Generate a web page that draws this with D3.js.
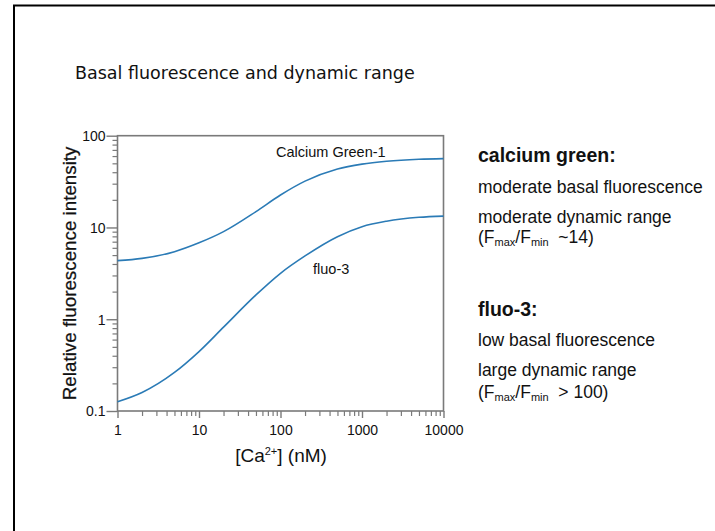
<!DOCTYPE html>
<html>
<head>
<meta charset="utf-8">
<script src="https://cdn.jsdelivr.net/npm/d3@7"></script>
<style>
  body { margin: 0; background: #fff; }
  svg { display: block; }
</style>
</head>
<body>
<script>
// [Ca2+] in nM
let calcium = [1, 2, 5, 10, 20, 50, 100, 200, 500, 1000, 2000, 5000, 10000];
let greenValues = [4.35, 4.6, 5.45, 6.8, 9.0, 14.9, 22.6, 32, 43.4, 49, 52.6, 55.3, 56.2];
let fluoValues = [0.126, 0.159, 0.263, 0.444, 0.82, 1.84, 3.17, 4.9, 7.94, 10.2, 11.7, 12.9, 13.3];
let xMajor = [1, 10, 100, 1000, 10000];
let yMajor = [0.1, 1, 10, 100];
let yLabels = ["0.1", "1", "10", "100"];

let width = 715;
let height = 531;
let lineColor = "#2b7bb6";
let axisColor = "#7a7a7a";
let font = "'Liberation Sans', Arial, Helvetica, sans-serif";

let svg = d3
  .select("body")
  .append("svg")
  .attr("width", width)
  .attr("height", height);

// slide frame (top and left edge)
svg.append("path")
  .attr("d", `M14,${height} L14,5.5 L${width},5.5`)
  .attr("fill", "none")
  .attr("stroke", "#000")
  .attr("stroke-width", 2);

svg.append("text")
  .attr("x", 75)
  .attr("y", 79)
  .attr("font-family", "'DejaVu Sans', Verdana, sans-serif")
  .attr("font-size", 17.5)
  .attr("fill", "#111")
  .text("Basal fluorescence and dynamic range");

let x = d3.scaleLog().domain([1, 10000]).range([117.5, 443.5]);
let y = d3.scaleLog().domain([0.1, 100]).range([411, 135.7]);

// minor ticks: 2..9 in each decade
let minorX = [];
for (let d = 1; d < 10000; d *= 10) {
  for (let k = 2; k <= 9; k++) minorX.push(d * k);
}
let minorY = [];
for (let d = 0.1; d < 99; d *= 10) {
  for (let k = 2; k <= 9; k++) minorY.push(+(d * k).toPrecision(3));
}

let plot = svg.append("g");

// box
plot.append("rect")
  .attr("x", x(1))
  .attr("y", y(100))
  .attr("width", x(10000) - x(1))
  .attr("height", y(0.1) - y(100))
  .attr("fill", "none")
  .attr("stroke", axisColor)
  .attr("stroke-width", 1.6);

let xAxis = d3.axisBottom(x).tickValues(xMajor).tickSize(7).tickSizeOuter(0)
  .tickFormat(d3.format("d"));
plot.append("g")
  .attr("transform", `translate(0,${y(0.1)})`)
  .call(xAxis)
  .call((g) => g.select(".domain").remove())
  .call((g) => g.selectAll("line").attr("stroke", axisColor).attr("stroke-width", 1.4))
  .call((g) => g.selectAll("text")
    .attr("font-family", font).attr("font-size", 14).attr("fill", "#111")
    .attr("dy", 0).attr("y", 24));

plot.append("g")
  .attr("transform", `translate(0,${y(0.1)})`)
  .call(d3.axisBottom(x).tickValues(minorX).tickSize(5).tickFormat(""))
  .call((g) => g.select(".domain").remove())
  .call((g) => g.selectAll("line").attr("stroke", axisColor).attr("stroke-width", 1.2));

let yAxis = d3.axisLeft(y).tickValues(yMajor).tickSize(11)
  .tickFormat((d, i) => yLabels[i]);
plot.append("g")
  .attr("transform", `translate(${x(1)},0)`)
  .call(yAxis)
  .call((g) => g.select(".domain").remove())
  .call((g) => g.selectAll("line").attr("stroke", axisColor).attr("stroke-width", 1.4))
  .call((g) => g.selectAll("text")
    .attr("font-family", font).attr("font-size", 14).attr("fill", "#111")
    .attr("x", -12).attr("dy", "0.35em"));

plot.append("g")
  .attr("transform", `translate(${x(1)},0)`)
  .call(d3.axisLeft(y).tickValues(minorY).tickSize(5).tickFormat(""))
  .call((g) => g.select(".domain").remove())
  .call((g) => g.selectAll("line").attr("stroke", axisColor).attr("stroke-width", 1.2));

// curves
let line = d3.line()
  .x((d) => x(d[0]))
  .y((d) => y(d[1]))
  .curve(d3.curveMonotoneX);

[greenValues, fluoValues].forEach((vals) => {
  plot.append("path")
    .datum(calcium.map((c, i) => [c, vals[i]]))
    .attr("d", line)
    .attr("fill", "none")
    .attr("stroke", lineColor)
    .attr("stroke-width", 1.6);
});

plot.append("text")
  .attr("x", 276)
  .attr("y", 157)
  .attr("font-family", font)
  .attr("font-size", 14.5)
  .attr("fill", "#111")
  .text("Calcium Green-1");

plot.append("text")
  .attr("x", 313)
  .attr("y", 274)
  .attr("font-family", font)
  .attr("font-size", 14.5)
  .attr("fill", "#111")
  .text("fluo-3");

// axis titles
svg.append("text")
  .attr("transform", `translate(76,${(y(100) + y(0.1)) / 2}) rotate(-90)`)
  .attr("text-anchor", "middle")
  .attr("font-family", font)
  .attr("font-size", 18.8)
  .attr("fill", "#111")
  .attr("stroke", "#111")
  .attr("stroke-width", 0.25)
  .text("Relative fluorescence intensity");

let xt = svg.append("text")
  .attr("x", 281)
  .attr("y", 462)
  .attr("text-anchor", "middle")
  .attr("font-family", font)
  .attr("font-size", 19)
  .attr("fill", "#111");
xt.append("tspan").text("[Ca");
xt.append("tspan").attr("font-size", 11).attr("dy", -7).text("2+");
xt.append("tspan").attr("dy", 7).text("] (nM)");

// side notes
let notes = [
  { text: "calcium green:", y: 162, bold: true },
  { text: "moderate basal fluorescence", y: 193 },
  { text: "moderate dynamic range", y: 223 },
  { ratio: "~14", y: 243 },
  { text: "fluo-3:", y: 316, bold: true },
  { text: "low basal fluorescence", y: 346 },
  { text: "large dynamic range", y: 376 },
  { ratio: "> 100", y: 398 },
];

notes.forEach((n) => {
  let t = svg.append("text")
    .attr("x", 478)
    .attr("y", n.y)
    .attr("font-family", font)
    .attr("fill", "#111")
    .attr("font-size", n.bold ? 19.5 : 17.5)
    .attr("font-weight", n.bold ? "bold" : "normal");
  if (n.ratio) {
    t.append("tspan").text("(F");
    t.append("tspan").attr("font-size", 11).attr("dy", 3).text("max");
    t.append("tspan").attr("dy", -3).text("/F");
    t.append("tspan").attr("font-size", 11).attr("dy", 3).text("min");
    t.append("tspan").attr("dy", -3).text("\u00a0 " + n.ratio + ")");
  } else {
    t.text(n.text);
  }
});
</script>
</body>
</html>
